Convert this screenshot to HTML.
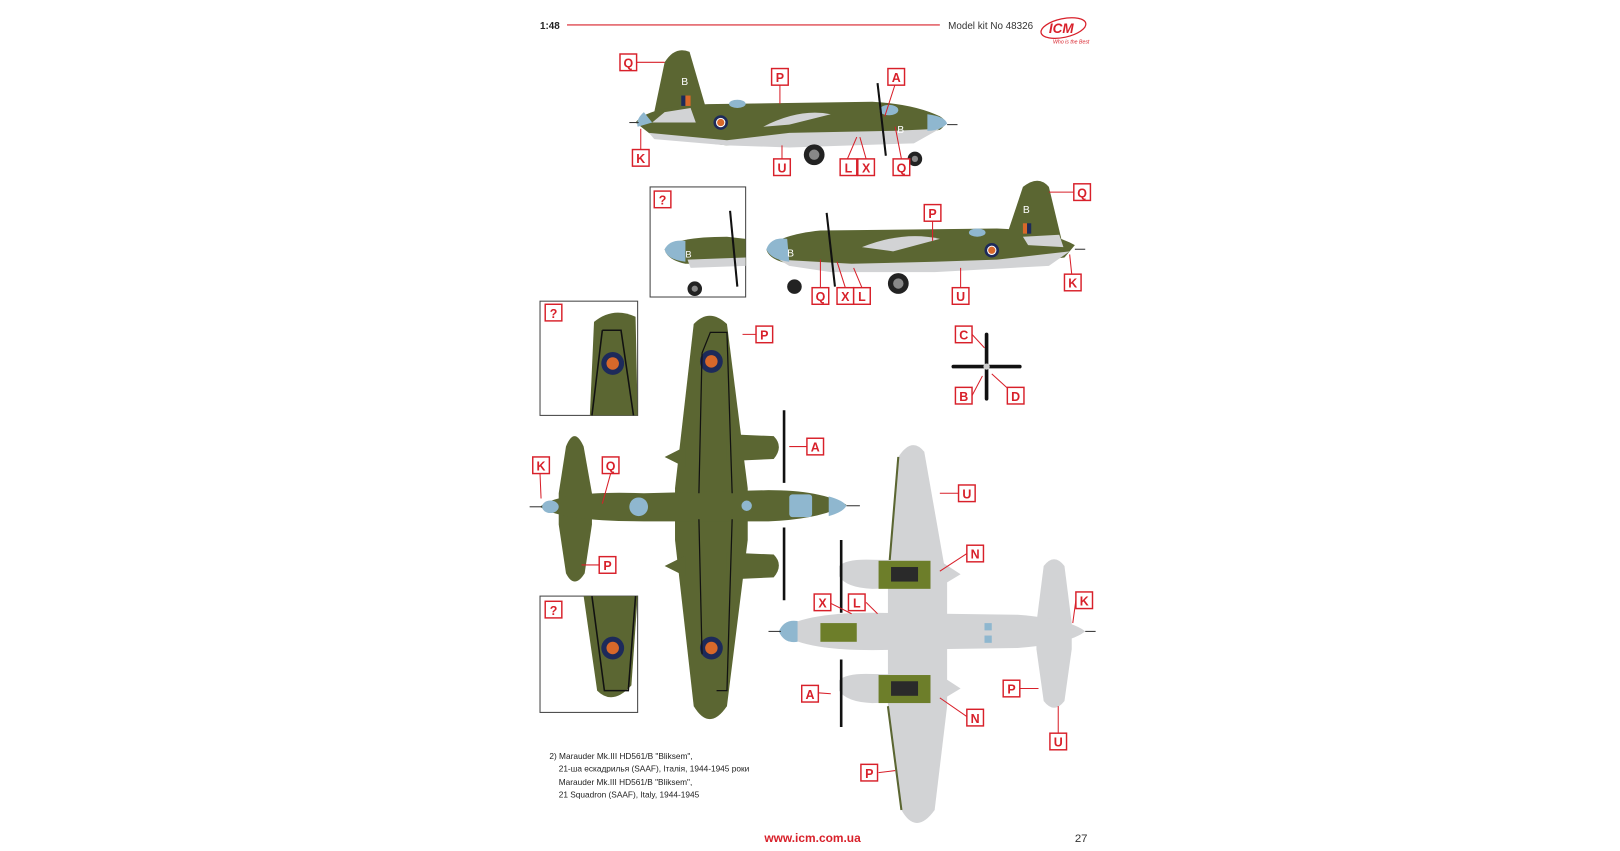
<!DOCTYPE html>
<html><head><meta charset="utf-8"><style>
html,body{margin:0;padding:0;background:#fff;}
svg{display:block}
text{font-family:"Liberation Sans","Noto Sans CJK SC",sans-serif}
.lb rect{fill:#fff;stroke:#d8202a;stroke-width:1.4}
.lb text{fill:#d8202a;font-weight:bold;font-size:12px;text-anchor:middle}
.ld{stroke:#d8202a;stroke-width:1;fill:none}
.g{fill:#5b6632}
.gr{fill:#d2d3d5}
.bl{fill:#8fb7cf}
</style></head><body>
<svg width="1620" height="851" viewBox="0 0 1620 851">
<g transform="scale(1.0385)">
<!-- header -->
<text x="520" y="28" font-size="9.5" font-weight="bold" fill="#222">1:48</text>
<line x1="546" y1="24" x2="905" y2="24" stroke="#d8202a" stroke-width="1"/>
<text x="913" y="28" font-size="9.5" fill="#333">Model kit No 48326</text>
<ellipse cx="1024" cy="27" rx="22" ry="9" fill="none" stroke="#d8202a" stroke-width="1.2" transform="rotate(-12 1024 27)"/>
<text x="1010" y="32" font-size="13" font-weight="bold" font-style="italic" fill="#d8202a">ICM</text>
<text x="1014" y="42" font-size="5" font-style="italic" fill="#d8202a">Who is the Best</text>

<!-- ===== Side view 1 ===== -->
<g>
<path class="g" d="M630 108 L640 60 Q650 44 664 50 L680 105 Z"/>
<path class="g" d="M612 118 Q625 100 700 100 L840 98 Q880 100 905 112 Q915 118 905 125 L860 132 L700 140 L630 132 Z"/>
<path class="gr" d="M625 128 L700 135 L760 128 L860 126 L905 124 L880 138 L760 142 L700 140 L630 134 Z"/>
<path class="gr" d="M640 108 L665 104 L670 118 L628 118 Z"/>
<path class="gr" d="M735 122 Q770 104 800 110 L760 120 Z"/>
<path class="bl" d="M893 110 Q910 112 912 119 Q905 126 893 126 Z"/>
<path class="bl" d="M620 108 Q612 115 614 122 L628 118 Z"/>
<ellipse class="bl" cx="710" cy="100" rx="8" ry="4"/>
<ellipse class="bl" cx="856" cy="106" rx="9" ry="5"/>
<circle cx="694" cy="118" r="7" fill="#1d2a5a"/><circle cx="694" cy="118" r="4.5" fill="#fff"/><circle cx="694" cy="118" r="3.5" fill="#d8682a"/>
<rect x="656" y="92" width="4" height="10" fill="#1d2a5a"/><rect x="660" y="92" width="5" height="10" fill="#d8682a"/>
<text x="656" y="82" font-size="10" fill="#fff">B</text>
<text x="864" y="128" font-size="10" fill="#fff">B</text>
<line x1="845" y1="80" x2="853" y2="150" stroke="#111" stroke-width="2"/>
<line x1="912" y1="120" x2="922" y2="120" stroke="#333"/>
<line x1="606" y1="118" x2="615" y2="118" stroke="#333"/>
<circle cx="784" cy="149" r="10" fill="#222"/><circle cx="784" cy="149" r="5" fill="#888"/>
<circle cx="881" cy="153" r="7" fill="#222"/><circle cx="881" cy="153" r="3" fill="#888"/>
</g>
<path class="ld" d="M613 60 L640 60 M751 81 L751 100 M862 81 L852 112 M617 144 L617 124 M753 153 L753 140 M816 153 L825 132 M834 153 L828 132 M868 153 L862 122"/>

<!-- ===== Inset side ===== -->
<rect x="626" y="180" width="92" height="106" fill="#fff" stroke="#444" stroke-width="1"/>
<path class="g" d="M640 240 Q650 228 700 228 L718 230 L718 254 L660 254 Q642 250 640 240 Z"/>
<path class="bl" d="M640 240 Q645 230 660 232 L660 252 Q642 250 640 240 Z"/>
<path class="gr" d="M662 250 L718 248 L718 256 L665 258 Z"/>
<text x="660" y="248" font-size="9" fill="#fff">B</text>
<line x1="703" y1="203" x2="710" y2="276" stroke="#111" stroke-width="2"/>
<circle cx="669" cy="278" r="7" fill="#222"/><circle cx="669" cy="278" r="3" fill="#888"/>

<!-- ===== Side view 2 ===== -->
<g>
<path class="g" d="M970 225 L985 180 Q1000 168 1010 180 L1022 230 Z"/>
<path class="g" d="M738 240 Q750 226 790 222 L960 220 Q1010 222 1035 236 L1025 248 L960 256 L820 260 L760 254 Q740 250 738 240 Z"/>
<path class="gr" d="M750 250 L820 254 L900 252 L960 250 L1030 242 L1010 256 L900 262 L800 262 L760 256 Z"/>
<path class="bl" d="M738 240 Q742 228 758 230 L760 252 Q742 250 738 240 Z"/>
<path class="gr" d="M830 238 Q870 222 905 230 L860 242 Z"/>
<path class="gr" d="M985 228 L1020 226 L1024 238 L990 236 Z"/>
<ellipse class="bl" cx="941" cy="224" rx="8" ry="4"/>
<circle cx="955" cy="241" r="7" fill="#1d2a5a"/><circle cx="955" cy="241" r="4.5" fill="#fff"/><circle cx="955" cy="241" r="3.5" fill="#d8682a"/>
<rect x="985" y="215" width="4" height="10" fill="#d8682a"/><rect x="989" y="215" width="4" height="10" fill="#1d2a5a"/>
<text x="985" y="205" font-size="10" fill="#fff">B</text>
<text x="758" y="247" font-size="10" fill="#fff">B</text>
<line x1="796" y1="205" x2="804" y2="276" stroke="#111" stroke-width="2"/>
<circle cx="865" cy="273" r="10" fill="#222"/><circle cx="865" cy="273" r="5" fill="#888"/>
<circle cx="765" cy="276" r="7" fill="#222"/>
<line x1="1035" y1="240" x2="1045" y2="240" stroke="#333"/>
</g>
<path class="ld" d="M1034 185 L1010 185 M898 213 L898 232 M790 277 L790 250 M814 277 L806 252 M830 277 L822 258 M925 277 L925 258 M1032 264 L1030 245"/>

<!-- ===== Prop ===== -->
<g stroke="#111" stroke-width="3.5" stroke-linecap="round">
<line x1="950" y1="322" x2="950" y2="384"/><line x1="918" y1="353" x2="982" y2="353"/>
</g>
<circle cx="950" cy="353" r="3" fill="#ccc"/>
<path class="ld" d="M936 322 L948 335 M936 381 L946 362 M978 381 L955 360"/>

<!-- ===== Insets top view ===== -->
<rect x="520" y="290" width="94" height="110" fill="#fff" stroke="#444"/>
<path class="g" d="M572 310 Q590 295 612 305 L614 400 L568 400 Z"/>
<circle cx="590" cy="350" r="11" fill="#1d2a5a"/><circle cx="590" cy="350" r="6" fill="#d8682a"/>
<path d="M580 318 L598 318 L610 400 M580 318 L570 400" stroke="#111" stroke-width="1.5" fill="none"/>
<rect x="520" y="574" width="94" height="112" fill="#fff" stroke="#444"/>
<path class="g" d="M562 574 L614 574 L608 660 Q590 680 575 665 Z"/>
<circle cx="590" cy="624" r="11" fill="#1d2a5a"/><circle cx="590" cy="624" r="6" fill="#d8682a"/>
<path d="M570 574 L582 665 L605 665 L612 574" stroke="#111" stroke-width="1.5" fill="none"/>

<!-- ===== Top view ===== -->
<g>
<path class="g" d="M545 430 Q553 410 562 430 L570 475 L570 505 L563 552 Q553 568 545 552 L538 505 L538 475 Z"/>
<path class="g" d="M668 312 Q683 296 700 312 L720 470 L720 520 L700 680 Q683 705 668 680 L650 520 L650 470 Z"/>
<path class="g" d="M640 440 L660 430 L660 450 Z M640 545 L660 535 L660 555 Z"/>
<path class="g" d="M520 488 Q540 472 620 475 L740 472 Q790 472 815 486 Q790 500 740 502 L620 502 Q540 502 520 488 Z"/>
<path class="g" d="M700 418 L745 420 Q755 430 745 442 L700 444 Z"/>
<path class="g" d="M700 532 L745 534 Q755 544 745 556 L700 558 Z"/>
<path class="bl" d="M798 478 Q812 482 815 487 Q812 493 798 497 Z"/>
<rect class="bl" x="760" y="476" width="22" height="22" rx="3"/>
<circle class="bl" cx="615" cy="488" r="9"/>
<circle class="bl" cx="719" cy="487" r="5"/>
<ellipse class="bl" cx="530" cy="488" rx="8" ry="6"/>
<circle cx="685" cy="348" r="11" fill="#1d2a5a"/><circle cx="685" cy="348" r="6" fill="#d8682a"/>
<circle cx="685" cy="624" r="11" fill="#1d2a5a"/><circle cx="685" cy="624" r="6" fill="#d8682a"/>
<path d="M676 340 L684 320 L700 320 L705 475 M676 340 L673 475 M676 630 L673 500 M690 665 L700 665 L705 500" stroke="#111" stroke-width="1.2" fill="none"/>
<line x1="755" y1="395" x2="755" y2="465" stroke="#111" stroke-width="2.5"/>
<line x1="755" y1="508" x2="755" y2="578" stroke="#111" stroke-width="2.5"/>
<line x1="510" y1="488" x2="522" y2="488" stroke="#333"/>
<line x1="815" y1="487" x2="828" y2="487" stroke="#333"/>
</g>
<path class="ld" d="M520 456 L521 480 M588 456 L580 485 M728 322 L715 322 M777 430 L760 430 M577 544 L560 544"/>

<!-- ===== Bottom view ===== -->
<g>
<path class="gr" d="M865 440 Q878 420 890 435 L912 560 L912 680 L900 780 Q882 805 868 780 L855 680 L855 560 Z"/>
<path d="M865 440 L855 560 M855 680 L868 780" stroke="#5b6632" stroke-width="2" fill="none"/>
<path class="gr" d="M1005 545 Q1015 532 1025 545 L1032 600 L1032 625 L1025 675 Q1015 688 1005 675 L998 625 L998 600 Z"/>
<path class="gr" d="M750 608 Q770 590 840 590 L980 592 Q1030 596 1045 608 Q1030 620 980 624 L840 626 Q770 626 750 608 Z"/>
<path class="gr" d="M808 545 Q815 538 840 539 L905 540 L925 553 L905 565 L840 567 Q815 566 808 555 Z"/>
<path class="gr" d="M808 655 Q815 648 840 649 L905 650 L925 663 L905 675 L840 677 Q815 676 808 665 Z"/>
<rect x="846" y="540" width="50" height="27" fill="#6d7e2a"/>
<rect x="846" y="650" width="50" height="27" fill="#6d7e2a"/>
<rect x="858" y="546" width="26" height="14" fill="#2a2a2a"/>
<rect x="858" y="656" width="26" height="14" fill="#2a2a2a"/>
<rect x="790" y="600" width="35" height="18" fill="#6d7e2a"/>
<path class="bl" d="M750 608 Q755 596 768 598 L768 618 Q755 620 750 608 Z"/>
<rect class="bl" x="948" y="600" width="7" height="7"/><rect class="bl" x="948" y="612" width="7" height="7"/>
<line x1="810" y1="520" x2="810" y2="590" stroke="#111" stroke-width="2.5"/>
<line x1="810" y1="635" x2="810" y2="700" stroke="#111" stroke-width="2.5"/>
<line x1="740" y1="608" x2="752" y2="608" stroke="#333"/>
<line x1="1045" y1="608" x2="1055" y2="608" stroke="#333"/>
</g>
<path class="ld" d="M923 475 L905 475 M931 533 L905 550 M798 580 L820 591 M834 580 L845 591 M1036 578 L1033 600 M786 667 L800 668 M931 690 L905 672 M966 663 L1000 663 M1019 706 L1019 680 M846 744 L862 742"/>

<!-- labels -->
<g class="lb">
<rect x="597" y="52" width="16" height="16"/><text x="605" y="65">Q</text>
<rect x="743" y="66" width="16" height="16"/><text x="751" y="79">P</text>
<rect x="855" y="66" width="16" height="16"/><text x="863" y="79">A</text>
<rect x="609" y="144" width="16" height="16"/><text x="617" y="157">K</text>
<rect x="745" y="153" width="16" height="16"/><text x="753" y="166">U</text>
<rect x="809" y="153" width="16" height="16"/><text x="817" y="166">L</text>
<rect x="826" y="153" width="16" height="16"/><text x="834" y="166">X</text>
<rect x="860" y="153" width="16" height="16"/><text x="868" y="166">Q</text>
<rect x="1034" y="177" width="16" height="16"/><text x="1042" y="190">Q</text>
<rect x="890" y="197" width="16" height="16"/><text x="898" y="210">P</text>
<rect x="630" y="184" width="16" height="16"/><text x="638" y="197">?</text>
<rect x="782" y="277" width="16" height="16"/><text x="790" y="290">Q</text>
<rect x="806" y="277" width="16" height="16"/><text x="814" y="290">X</text>
<rect x="822" y="277" width="16" height="16"/><text x="830" y="290">L</text>
<rect x="917" y="277" width="16" height="16"/><text x="925" y="290">U</text>
<rect x="1025" y="264" width="16" height="16"/><text x="1033" y="277">K</text>
<rect x="525" y="293" width="16" height="16"/><text x="533" y="306">?</text>
<rect x="728" y="314" width="16" height="16"/><text x="736" y="327">P</text>
<rect x="920" y="314" width="16" height="16"/><text x="928" y="327">C</text>
<rect x="920" y="373" width="16" height="16"/><text x="928" y="386">B</text>
<rect x="970" y="373" width="16" height="16"/><text x="978" y="386">D</text>
<rect x="777" y="422" width="16" height="16"/><text x="785" y="435">A</text>
<rect x="513" y="440" width="16" height="16"/><text x="521" y="453">K</text>
<rect x="580" y="440" width="16" height="16"/><text x="588" y="453">Q</text>
<rect x="923" y="467" width="16" height="16"/><text x="931" y="480">U</text>
<rect x="577" y="536" width="16" height="16"/><text x="585" y="549">P</text>
<rect x="931" y="525" width="16" height="16"/><text x="939" y="538">N</text>
<rect x="784" y="572" width="16" height="16"/><text x="792" y="585">X</text>
<rect x="817" y="572" width="16" height="16"/><text x="825" y="585">L</text>
<rect x="1036" y="570" width="16" height="16"/><text x="1044" y="583">K</text>
<rect x="525" y="579" width="16" height="16"/><text x="533" y="592">?</text>
<rect x="772" y="660" width="16" height="16"/><text x="780" y="673">A</text>
<rect x="966" y="655" width="16" height="16"/><text x="974" y="668">P</text>
<rect x="931" y="683" width="16" height="16"/><text x="939" y="696">N</text>
<rect x="1011" y="706" width="16" height="16"/><text x="1019" y="719">U</text>
<rect x="829" y="736" width="16" height="16"/><text x="837" y="749">P</text>
</g>

<!-- caption -->
<g font-size="8" fill="#222">
<text x="529" y="731">2) Marauder Mk.III HD561/B "Bliksem",</text>
<text x="538" y="743">21-ша ескадрилья (SAAF), Італія, 1944-1945 роки</text>
<text x="538" y="756">Marauder Mk.III HD561/B "Bliksem",</text>
<text x="538" y="768">21 Squadron (SAAF), Italy, 1944-1945</text>
</g>
<text x="736" y="811" font-size="11.5" font-weight="bold" fill="#d8202a">www.icm.com.ua</text>
<text x="1035" y="811" font-size="11" fill="#333">27</text>
</g>
</svg>
</body></html>
